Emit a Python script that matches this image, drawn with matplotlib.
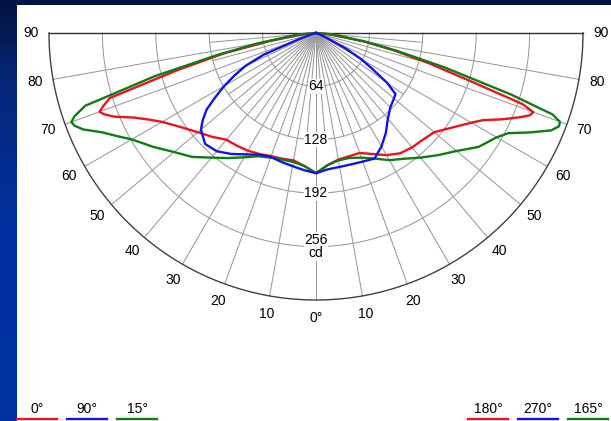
import numpy as np
import matplotlib
matplotlib.use("Agg")
import matplotlib.pyplot as plt
from matplotlib.colors import LinearSegmentedColormap
from matplotlib.patches import Rectangle
from matplotlib.lines import Line2D

plt.rcParams['font.family'] = ['Liberation Sans', 'DejaVu Sans']

# gamma angle (0 = straight down) and luminous intensity in cd
gamma = [0, 5, 10, 15, 20, 25, 30, 35, 40, 45, 50, 55, 60, 62.5, 65, 67.5, 69, 70, 71, 72.5, 75, 77.5, 80, 85, 90]
c0 = [168, 160, 155, 156, 157, 160, 163, 165, 167, 176, 185, 197, 213, 225, 240, 262, 272, 276, 270, 259, 172, 113, 57, 17, 0]
c180 = [168, 159, 154, 153, 153, 160, 169, 176, 179, 181, 185, 198, 215, 226, 245, 264, 275, 277, 262, 200, 140, 95, 57, 17, 0]
c15 = [168, 160, 157, 157, 159, 163, 172, 183, 195, 210, 222, 238, 255, 268, 282, 302, 310, 312, 306, 290, 200, 120, 70, 22, 0]
c165 = [168, 159, 155, 155, 159, 166, 176, 184, 195, 207, 220, 238, 250, 260, 282, 305, 312, 311, 300, 245, 160, 100, 62, 20, 0]

gamma_b = [0, 5, 10, 15, 20, 25, 30, 35, 40, 45, 50, 52.5, 55, 57.5, 60, 62.5, 65, 67.5, 70, 72.5, 75, 80, 90]
c90 = [168, 165, 162, 160, 158, 161, 168, 177, 185, 188, 180, 171, 160, 143, 127, 110, 93, 68, 22, 8, 3, 0, 0]
c270 = [168, 164, 163, 163, 164, 166, 157, 146, 134, 126, 122, 120, 104, 80, 62, 40, 15, 6, 3, 0, 0, 0, 0]

rings = [64, 128, 192, 256]
r_max = 320
angle_ticks = [10, 20, 30, 40, 50, 60, 70, 80, 90]

legend_left = ['0°', '90°', '15°']
legend_right = ['180°', '270°', '165°']
colors = ['#e8141e', '#1414e0', '#127a16']

W, H = 611, 421
cx, cy = 316, 33          # centre of the diagram in pixels
k = 267 / r_max           # pixels per cd

fig = plt.figure(figsize=(W / 100, H / 100), dpi=100)

# background: blue gradient with white panel
bg = fig.add_axes([0, 0, 1, 1])
cmap = LinearSegmentedColormap.from_list('bg', [(0, '#0032a2'), (0.45, '#0030a0'), (0.8, '#06277a'), (1, '#021440')])
bg.imshow(np.linspace(0, 1, 200).reshape(-1, 1), cmap=cmap, aspect='auto', extent=[0, 1, 0, 1], origin='lower')
bg.add_patch(Rectangle((17 / W, 0), 1, 1 - 5 / H, facecolor='white', edgecolor='none'))
bg.set_xlim(0, 1)
bg.set_ylim(0, 1)
bg.axis('off')

ax = fig.add_axes([0, 0, 1, 1])
ax.patch.set_alpha(0)
ax.set_xlim(-cx / k, (W - cx) / k)
ax.set_ylim(-(H - cy) / k, cy / k)
ax.axis('off')

grid_c = '#9a9a9a'
t = np.radians(np.linspace(-90, 90, 361))
for r in rings:
    ax.plot(r * np.sin(t), -r * np.cos(t), color=grid_c, lw=0.75, zorder=1)
ax.plot(r_max * np.sin(t), -r_max * np.cos(t), color='#404040', lw=1.0, zorder=2)
ax.plot([-r_max, r_max], [0, 0], color='#303030', lw=1.0, zorder=2)

for a in range(-85, 90, 5):
    end = r_max if a % 10 == 0 else rings[1]
    ar = np.radians(a)
    ax.plot([0, end * np.sin(ar)], [0, -end * np.cos(ar)], color=grid_c, lw=0.75, zorder=1)

for r in rings[:3]:
    ax.text(0, -r, str(r), ha='center', va='center', fontsize=10, zorder=3,
            bbox=dict(facecolor='white', edgecolor='none', pad=0.3))
ax.text(0, -rings[3], f'{rings[3]}\ncd', ha='center', va='center', fontsize=10, zorder=3,
        linespacing=0.95, bbox=dict(facecolor='white', edgecolor='none', pad=0.3))

r_lab = 285 / k
for a in angle_ticks:
    ar = np.radians(a)
    for s in (-1, 1):
        ax.text(s * r_lab * np.sin(ar), -r_lab * np.cos(ar), str(a), ha='center', va='center', fontsize=10)
ax.text(0, -r_lab, '0°', ha='center', va='center', fontsize=10)


def curve(g, left, right):
    g = np.radians(np.array(g, dtype=float))
    left = np.array(left, dtype=float)
    right = np.array(right, dtype=float)
    x = np.concatenate([-(left * np.sin(g))[::-1], (right * np.sin(g))[1:]])
    y = np.concatenate([-(left * np.cos(g))[::-1], -(right * np.cos(g))[1:]])
    return x, y


x, y = curve(gamma, c0, c180)
ax.plot(x, y, color=colors[0], lw=1.7, zorder=4, solid_joinstyle='round')
x, y = curve(gamma, c15, c165)
ax.plot(x, y, color=colors[2], lw=1.7, zorder=4, solid_joinstyle='round')
x, y = curve(gamma_b, c90, c270)
ax.plot(x, y, color=colors[1], lw=1.7, zorder=5, solid_joinstyle='round')

# legend entries along the bottom
for i, lab in enumerate(legend_left):
    x0 = 17 + 50 * i
    fig.add_artist(Line2D([x0 / W, (x0 + 40) / W], [1 - 419 / H, 1 - 419 / H], color=colors[i], lw=1.7))
    fig.text((x0 + 20) / W, 1 - 413 / H, lab, ha='center', va='baseline', fontsize=10)
for i, lab in enumerate(legend_right):
    x0 = 468 + 50 * i
    fig.add_artist(Line2D([x0 / W, (x0 + 40) / W], [1 - 419 / H, 1 - 419 / H], color=colors[i], lw=1.7))
    fig.text((x0 + 20) / W, 1 - 413 / H, lab, ha='center', va='baseline', fontsize=10)

fig.savefig('out.png', dpi=100)
